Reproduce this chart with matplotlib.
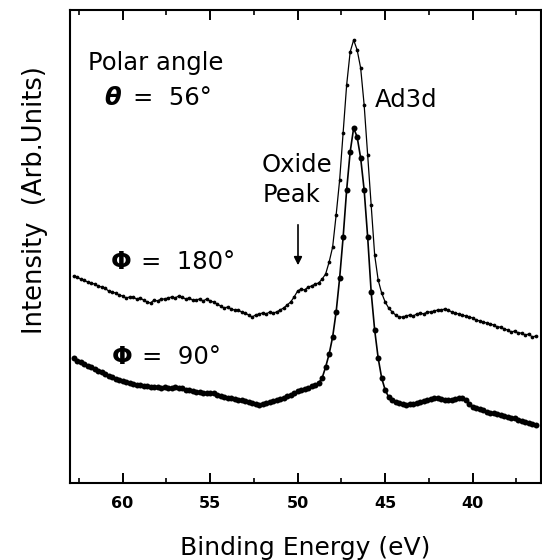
import matplotlib
matplotlib.use("Agg")
import matplotlib.pyplot as plt
from matplotlib.ticker import MultipleLocator

# Binding energy grid (eV)
energy = [
    62.8, 62.6, 62.4, 62.2, 62.0, 61.8, 61.6, 61.4, 61.2, 61.0,
    60.8, 60.6, 60.4, 60.2, 60.0, 59.8, 59.6, 59.4, 59.2, 59.0,
    58.8, 58.6, 58.4, 58.2, 58.0, 57.8, 57.6, 57.4, 57.2, 57.0,
    56.8, 56.6, 56.4, 56.2, 56.0, 55.8, 55.6, 55.4, 55.2, 55.0,
    54.8, 54.6, 54.4, 54.2, 54.0, 53.8, 53.6, 53.4, 53.2, 53.0,
    52.8, 52.6, 52.4, 52.2, 52.0, 51.8, 51.6, 51.4, 51.2, 51.0,
    50.8, 50.6, 50.4, 50.2, 50.0, 49.8, 49.6, 49.4, 49.2, 49.0,
    48.8, 48.6, 48.4, 48.2, 48.0, 47.8, 47.6, 47.4, 47.2, 47.0,
    46.8, 46.6, 46.4, 46.2, 46.0, 45.8, 45.6, 45.4, 45.2, 45.0,
    44.8, 44.6, 44.4, 44.2, 44.0, 43.8, 43.6, 43.4, 43.2, 43.0,
    42.8, 42.6, 42.4, 42.2, 42.0, 41.8, 41.6, 41.4, 41.2, 41.0,
    40.8, 40.6, 40.4, 40.2, 40.0, 39.8, 39.6, 39.4, 39.2, 39.0,
    38.8, 38.6, 38.4, 38.2, 38.0, 37.8, 37.6, 37.4, 37.2, 37.0,
    36.8, 36.6, 36.4,
]

# Phi = 180 deg spectrum (arb. units)
phi180 = [
    207, 206, 204, 203, 201, 200, 199, 197, 196, 195,
    192, 191, 190, 188, 187, 185, 186, 186, 184, 185,
    183, 181, 180, 183, 182, 184, 184, 185, 186, 185,
    187, 186, 184, 185, 183, 183, 184, 182, 184, 182,
    181, 179, 177, 175, 176, 174, 173, 173, 171, 170,
    168, 166, 168, 169, 170, 169, 171, 170, 171, 173,
    175, 178, 181, 186, 192, 194, 193, 196, 197, 199,
    200, 204, 209, 221, 236, 268, 303, 350, 398, 431,
    443, 433, 415, 378, 328, 278, 228, 203, 190, 181,
    175, 171, 168, 166, 166, 167, 168, 167, 169, 170,
    169, 171, 171, 172, 173, 173, 174, 173, 171, 170,
    169, 168, 167, 166, 165, 163, 162, 161, 160, 159,
    158, 156, 156, 154, 153, 151, 152, 150, 150, 148,
    149, 146, 147,
]

# Phi = 90 deg spectrum (arb. units)
phi90 = [
    125, 122, 121, 119, 117, 116, 114, 112, 111, 109,
    107, 106, 104, 103, 102, 101, 100, 99, 98, 98,
    97, 97, 96, 96, 96, 95, 96, 95, 95, 96,
    95, 95, 93, 93, 92, 91, 91, 90, 90, 90,
    90, 88, 87, 86, 85, 85, 84, 83, 83, 82,
    81, 80, 79, 78, 79, 80, 81, 82, 83, 84,
    85, 87, 88, 90, 92, 93, 94, 95, 97, 98,
    100, 105, 116, 129, 146, 171, 205, 246, 293, 331,
    355, 346, 325, 293, 246, 191, 153, 125, 105, 93,
    86, 83, 81, 80, 79, 78, 79, 79, 80, 81,
    82, 83, 84, 85, 85, 84, 83, 83, 83, 84,
    85, 85, 83, 79, 76, 75, 74, 73, 71, 70,
    70, 69, 68, 67, 66, 65, 65, 63, 62, 61,
    60, 59, 58,
]

xticks = [60, 55, 50, 45, 40]

plt.rcParams['font.family'] = ['DejaVu Sans']

fig = plt.figure(figsize=(5.42, 5.60), dpi=100)
ax = fig.add_axes([70/542, 1 - 483/560, 471/542, 473/560])

ax.plot(energy, phi180, color='black', lw=0.9, marker='o', ms=2.7,
        markeredgewidth=0)
ax.plot(energy, phi90, color='black', lw=1.2, marker='o', ms=4.3,
        markeredgewidth=0)

ax.set_xlim(63.0, 36.1)
ax.set_ylim(0, 473)
ax.set_xticks(xticks)
ax.set_xticklabels([str(t) for t in xticks])
ax.xaxis.set_minor_locator(MultipleLocator(2.5))
ax.set_yticks([])
ax.tick_params(axis='x', which='major', direction='in', length=7.2,
               width=1.4, top=True, bottom=True, pad=9, labelsize=11.5)
ax.tick_params(axis='x', which='minor', direction='in', length=3.6,
               width=1.2, top=True, bottom=True)
for lab in ax.get_xticklabels():
    lab.set_fontweight('bold')
for sp in ax.spines.values():
    sp.set_linewidth(1.5)

fs = 17.5
fig.text(305/542, 1 - 548/560, 'Binding Energy (eV)', ha='center',
         va='center', fontsize=18)
fig.text(35/542, 1 - 200/560, 'Intensity  (Arb.Units)', ha='center',
         va='center', rotation=90, fontsize=18.5)

def fx(px):
    return (px - 70) / 471

def fy(py):
    return (483 - py) / 473

T = ax.transAxes
ax.text(fx(88), fy(63), 'Polar angle', transform=T, ha='left', va='center',
        fontsize=fs)
ax.text(fx(104), fy(98), 'θ', transform=T, ha='left', va='center',
        fontsize=fs, fontweight='bold', fontstyle='italic')
ax.text(fx(133), fy(98), '=  56°', transform=T, ha='left', va='center',
        fontsize=fs)
ax.text(fx(375), fy(100), 'Ad3d', transform=T, ha='left', va='center',
        fontsize=fs)
ax.text(fx(262), fy(165), 'Oxide', transform=T, ha='left', va='center',
        fontsize=fs)
ax.text(fx(263), fy(195), 'Peak', transform=T, ha='left', va='center',
        fontsize=fs)
ax.annotate('', xy=(fx(298), fy(268)), xytext=(fx(298), fy(222)),
            xycoords=T, textcoords=T,
            arrowprops=dict(arrowstyle='-|>', color='black', lw=1.2,
                            mutation_scale=12))
ax.text(fx(111), fy(262), 'Φ', transform=T, ha='left', va='center',
        fontsize=fs, fontweight='bold')
ax.text(fx(141), fy(262), '=  180°', transform=T, ha='left', va='center',
        fontsize=fs)
ax.text(fx(112), fy(357), 'Φ', transform=T, ha='left', va='center',
        fontsize=fs, fontweight='bold')
ax.text(fx(142), fy(357), '=  90°', transform=T, ha='left', va='center',
        fontsize=fs)

fig.savefig('out.png', dpi=100)
